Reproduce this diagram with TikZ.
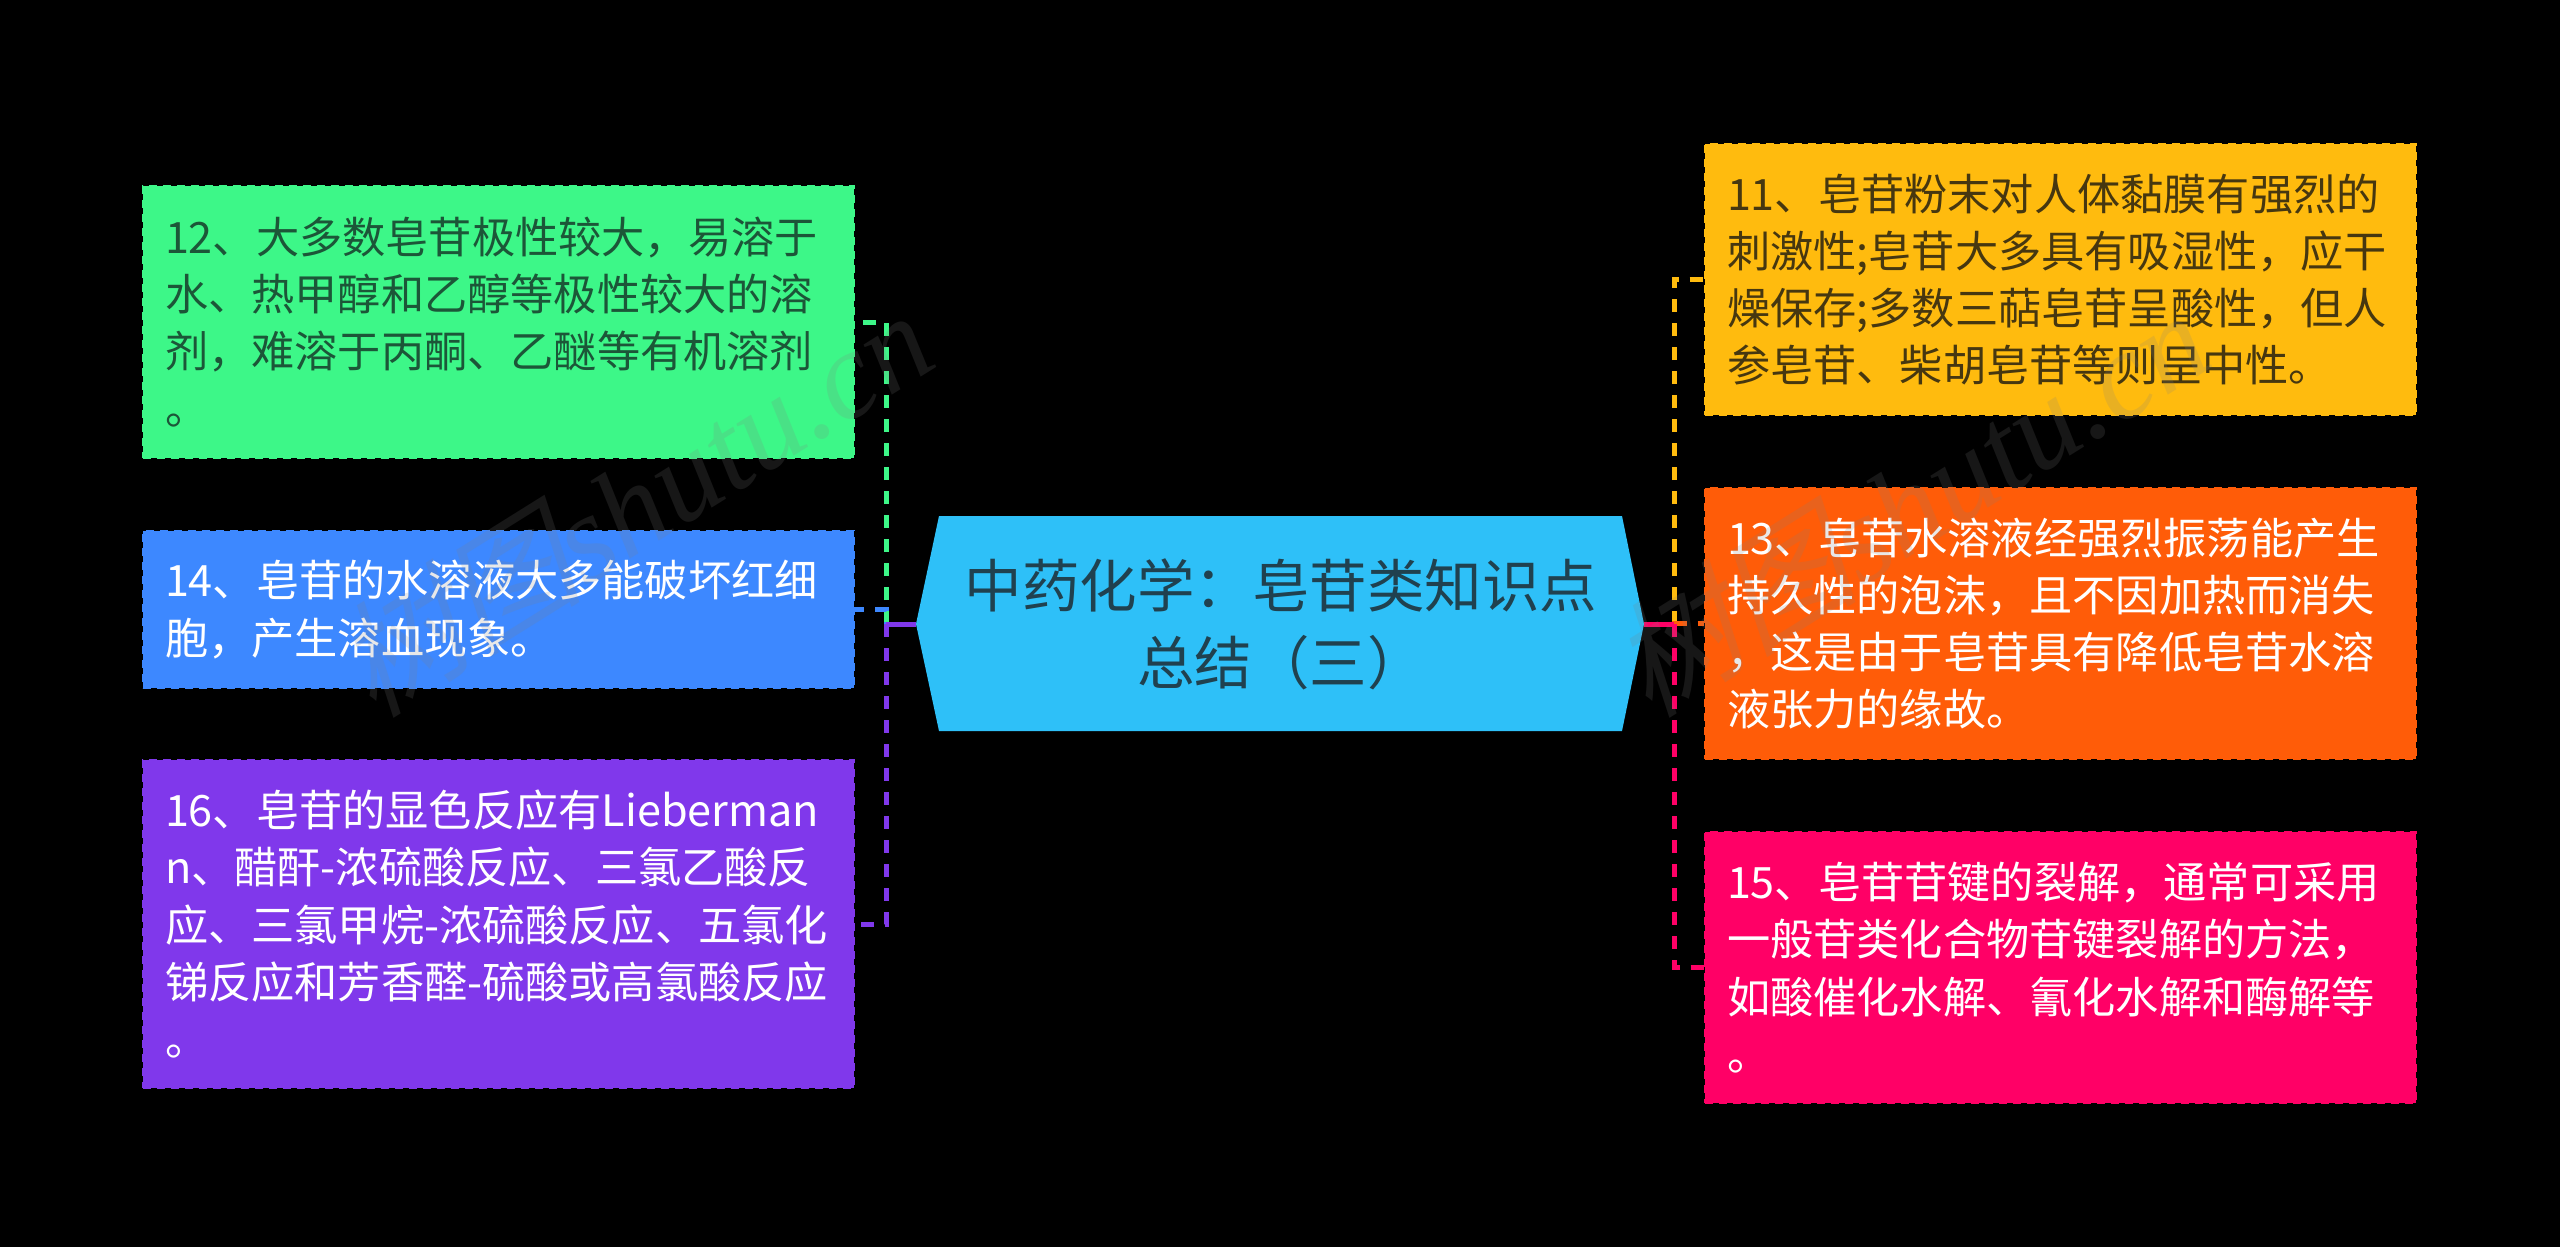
\documentclass[tikz,border=0pt]{standalone}
\usepackage{fontspec}
\setmainfont{Noto Sans CJK SC}
\newfontfamily\wmlatin{Liberation Serif}[ItalicFont=* Italic]
\newfontfamily\wmcjk{Noto Sans CJK SC}[FakeSlant=0.25]
\usetikzlibrary{calc}
\hyphenpenalty=10000
\lefthyphenmin=60
\definecolor{cgreen}{HTML}{3DF788}
\definecolor{cblue}{HTML}{3D88FF}
\definecolor{cviolet}{HTML}{8038EB}
\definecolor{cyellow}{HTML}{FFBB0E}
\definecolor{corange}{HTML}{FF5C08}
\definecolor{cpink}{HTML}{FF0066}
\definecolor{ccenter}{HTML}{2EC0F8}
\definecolor{tcenter}{HTML}{20414F}
\definecolor{tgreen}{HTML}{1C5638}
\definecolor{tyellow}{HTML}{463710}
\tikzset{
  leaf/.style n args={2}{draw=#1,fill=#1,text=#2,line width=2.5pt,dash pattern=on 8pt off 6pt,
     minimum width=711pt,text width=667pt,inner xsep=22pt,inner ysep=0pt,align=left,anchor=center,
     font=\fontsize{43.2}{57.2}\selectfont},
  hub/.style={fill=ccenter,draw=none},
  hubtext/.style={text=tcenter,align=center,inner sep=0pt,font=\fontsize{57.5}{77}\selectfont},
  stub/.style={line width=5pt},
  link/.style={line width=5pt,dash pattern=on 13pt off 11pt},
  wm/.style={text=gray,opacity=0.18,rotate=32,inner sep=0pt,font=\fontsize{125}{125}\selectfont},
}
\begin{document}
\begin{tikzpicture}[x=1pt,y=-1pt]
\useasboundingbox (0,0) rectangle (2560,1247);
\fill[black] (0,0) rectangle (2560,1247);
% junctions and hub corners
\coordinate (cl) at (916,624);
\coordinate (cr) at (1644,624);
\coordinate (jl) at (886,624);
\coordinate (jr) at (1674,624);
\fill[hub] (cl) -- (939,516) -- (1622,516) -- (cr) -- (1622,731) -- (939,731) -- cycle;
\node[hubtext] (hubn) at (1281,624) {中药化学：皂苷类知识点\\总结（三）};
% left boxes
\node[leaf={cgreen}{tgreen},minimum height=272pt] (n12) at (498.5,322) {12、大多数皂苷极性较大，易溶于\\水、热甲醇和乙醇等极性较大的溶\\剂，难溶于丙酮、乙醚等有机溶剂\\。};
\node[leaf={cblue}{white},minimum height=157pt] (n14) at (498.5,609.5) {14、皂苷的水溶液大多能破坏红细\\胞，产生溶血现象。};
\node[leaf={cviolet}{white},minimum height=328pt] (n16) at (498.5,924) {16、皂苷的显色反应有Lieberman\\n、醋酐-浓硫酸反应、三氯乙酸反\\应、三氯甲烷-浓硫酸反应、五氯化\\锑反应和芳香醛-硫酸或高氯酸反应\\。};
% right boxes
\node[leaf={cyellow}{tyellow},minimum height=271pt] (n11) at (2060.5,279.5) {11、皂苷粉末对人体黏膜有强烈的\\刺激性;皂苷大多具有吸湿性，应干\\燥保存;多数三萜皂苷呈酸性，但人\\参皂苷、柴胡皂苷等则呈中性。};
\node[leaf={corange}{white},minimum height=271pt] (n13) at (2060.5,623.5) {13、皂苷水溶液经强烈振荡能产生\\持久性的泡沫，且不因加热而消失\\，这是由于皂苷具有降低皂苷水溶\\液张力的缘故。};
\node[leaf={cpink}{white},minimum height=271pt] (n15) at (2060.5,967.5) {15、皂苷苷键的裂解，通常可采用\\一般苷类化合物苷键裂解的方法，\\如酸催化水解、氰化水解和酶解等\\。};
% connectors
\draw[link,cgreen] (jl) |- (n12.east);
\draw[link,cblue,dash phase=11pt] (jl) |- (n14.east);
\draw[link,cviolet] (jl) |- (n16.east);
\draw[stub,cviolet] (cl) -- (jl);
\draw[link,cyellow] (jr) |- (n11.west);
\draw[link,corange] (jr) |- (n13.west);
\draw[link,cpink] (jr) |- (n15.west);
\draw[stub,cpink] (cr) -- (jr);
% watermarks
\node[wm] (w1) at (632,502) {{\wmcjk 树图}{\wmlatin\itshape shutu.cn}};
\node[wm] (w2) at (1908,502) {{\wmcjk 树图}{\wmlatin\itshape shutu.cn}};
\end{tikzpicture}
\end{document}
